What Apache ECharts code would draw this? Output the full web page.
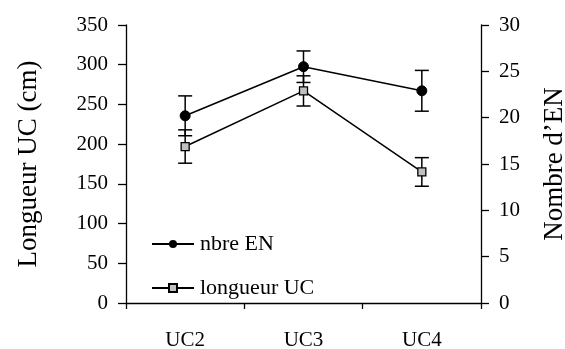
<!DOCTYPE html>
<html>
<head>
<meta charset="utf-8">
<script src="https://cdn.jsdelivr.net/npm/echarts@6/dist/echarts.min.js"></script>
<style>
html,body{margin:0;padding:0;background:#fff;}
#c{width:565px;height:349px;}
</style>
</head>
<body>
<div id="c"></div>
<script>
const categories = ['UC2', 'UC3', 'UC4'];
const nbreEN = [20.2, 25.5, 22.9];
const nbreENErr = [2.15, 1.7, 2.2];
const longueurUC = [197, 267, 165];
const longueurUCErr = [21, 19, 18];
const leftTicks = [0, 50, 100, 150, 200, 250, 300, 350];
const rightTicks = [0, 5, 10, 15, 20, 25, 30];

const FONT = 'Liberation Serif';

function errData(vals, errs) {
  return vals.map((v, i) => [i, v - errs[i], v + errs[i]]);
}

function errRender(params, api) {
  const x = api.value(0);
  const lo = api.coord([x, api.value(1)]);
  const hi = api.coord([x, api.value(2)]);
  const hw = 7;
  const style = { stroke: '#000', lineWidth: 1.5, fill: null };
  return {
    type: 'group',
    children: [
      { type: 'line', shape: { x1: lo[0], y1: lo[1], x2: hi[0], y2: hi[1] }, style: style },
      { type: 'line', shape: { x1: lo[0] - hw, y1: lo[1], x2: lo[0] + hw, y2: lo[1] }, style: style },
      { type: 'line', shape: { x1: hi[0] - hw, y1: hi[1], x2: hi[0] + hw, y2: hi[1] }, style: style }
    ]
  };
}

const chart = echarts.init(document.getElementById('c'), null, { renderer: 'canvas' });
const axisLineStyle = { color: '#000', width: 1.3 };
chart.setOption({
  animation: false,
  backgroundColor: '#fff',
  textStyle: { fontFamily: FONT, color: '#000' },
  grid: { left: 126, right: 84, top: 25, bottom: 46, containLabel: false, outerBoundsMode: 'none' },
  legend: {
    data: ['nbre EN', 'longueur UC'],
    orient: 'vertical',
    left: 146,
    top: 228,
    padding: 5,
    itemWidth: 42,
    itemHeight: 10,
    itemGap: 22,
    textStyle: { fontFamily: FONT, fontSize: 22, color: '#000', padding: [0, 0, 0, 1] }
  },
  xAxis: {
    type: 'category',
    data: categories,
    boundaryGap: true,
    axisLine: { lineStyle: axisLineStyle },
    axisTick: { show: true, length: 6, lineStyle: { color: '#000', width: 1.3 } },
    axisLabel: { fontFamily: FONT, fontSize: 21, color: '#000', margin: 27 },
    splitLine: { show: false }
  },
  yAxis: [
    {
      type: 'value', min: leftTicks[0], max: leftTicks[leftTicks.length - 1], interval: 50,
      position: 'left',
      name: 'Longueur UC (cm)', nameLocation: 'middle', nameGap: 84, nameRotate: 90,
      nameTextStyle: { fontFamily: FONT, fontSize: 27, color: '#000' },
      axisLine: { show: true, lineStyle: axisLineStyle },
      axisTick: { show: true, length: 8, lineStyle: { color: '#000', width: 1.3 } },
      axisLabel: { fontFamily: FONT, fontSize: 21, color: '#000', margin: 18 },
      splitLine: { show: false }
    },
    {
      type: 'value', min: rightTicks[0], max: rightTicks[rightTicks.length - 1], interval: 5,
      position: 'right',
      name: 'Nombre d\u2019EN', nameLocation: 'middle', nameGap: 60, nameRotate: 90,
      nameTextStyle: { fontFamily: FONT, fontSize: 27, color: '#000' },
      axisLine: { show: true, lineStyle: axisLineStyle },
      axisTick: { show: true, length: 8, lineStyle: { color: '#000', width: 1.3 } },
      axisLabel: { fontFamily: FONT, fontSize: 21, color: '#000', margin: 18 },
      splitLine: { show: false }
    }
  ],
  series: [
    {
      name: 'nbre EN', type: 'line', yAxisIndex: 1, data: nbreEN,
      symbol: 'circle', symbolSize: 10,
      lineStyle: { color: '#000', width: 1.5 },
      itemStyle: { color: '#000', borderColor: '#000' },
      z: 5
    },
    {
      name: 'longueur UC', type: 'line', yAxisIndex: 0, data: longueurUC,
      symbol: 'rect', symbolSize: 8,
      lineStyle: { color: '#000', width: 1.5 },
      itemStyle: { color: '#c0c0c0', borderColor: '#000', borderWidth: 1.3 },
      z: 5
    },
    {
      type: 'custom', yAxisIndex: 1, data: errData(nbreEN, nbreENErr),
      renderItem: errRender, encode: { x: 0, y: [1, 2] }, z: 3, silent: true
    },
    {
      type: 'custom', yAxisIndex: 0, data: errData(longueurUC, longueurUCErr),
      renderItem: errRender, encode: { x: 0, y: [1, 2] }, z: 3, silent: true
    }
  ]
});
</script>
</body>
</html>
